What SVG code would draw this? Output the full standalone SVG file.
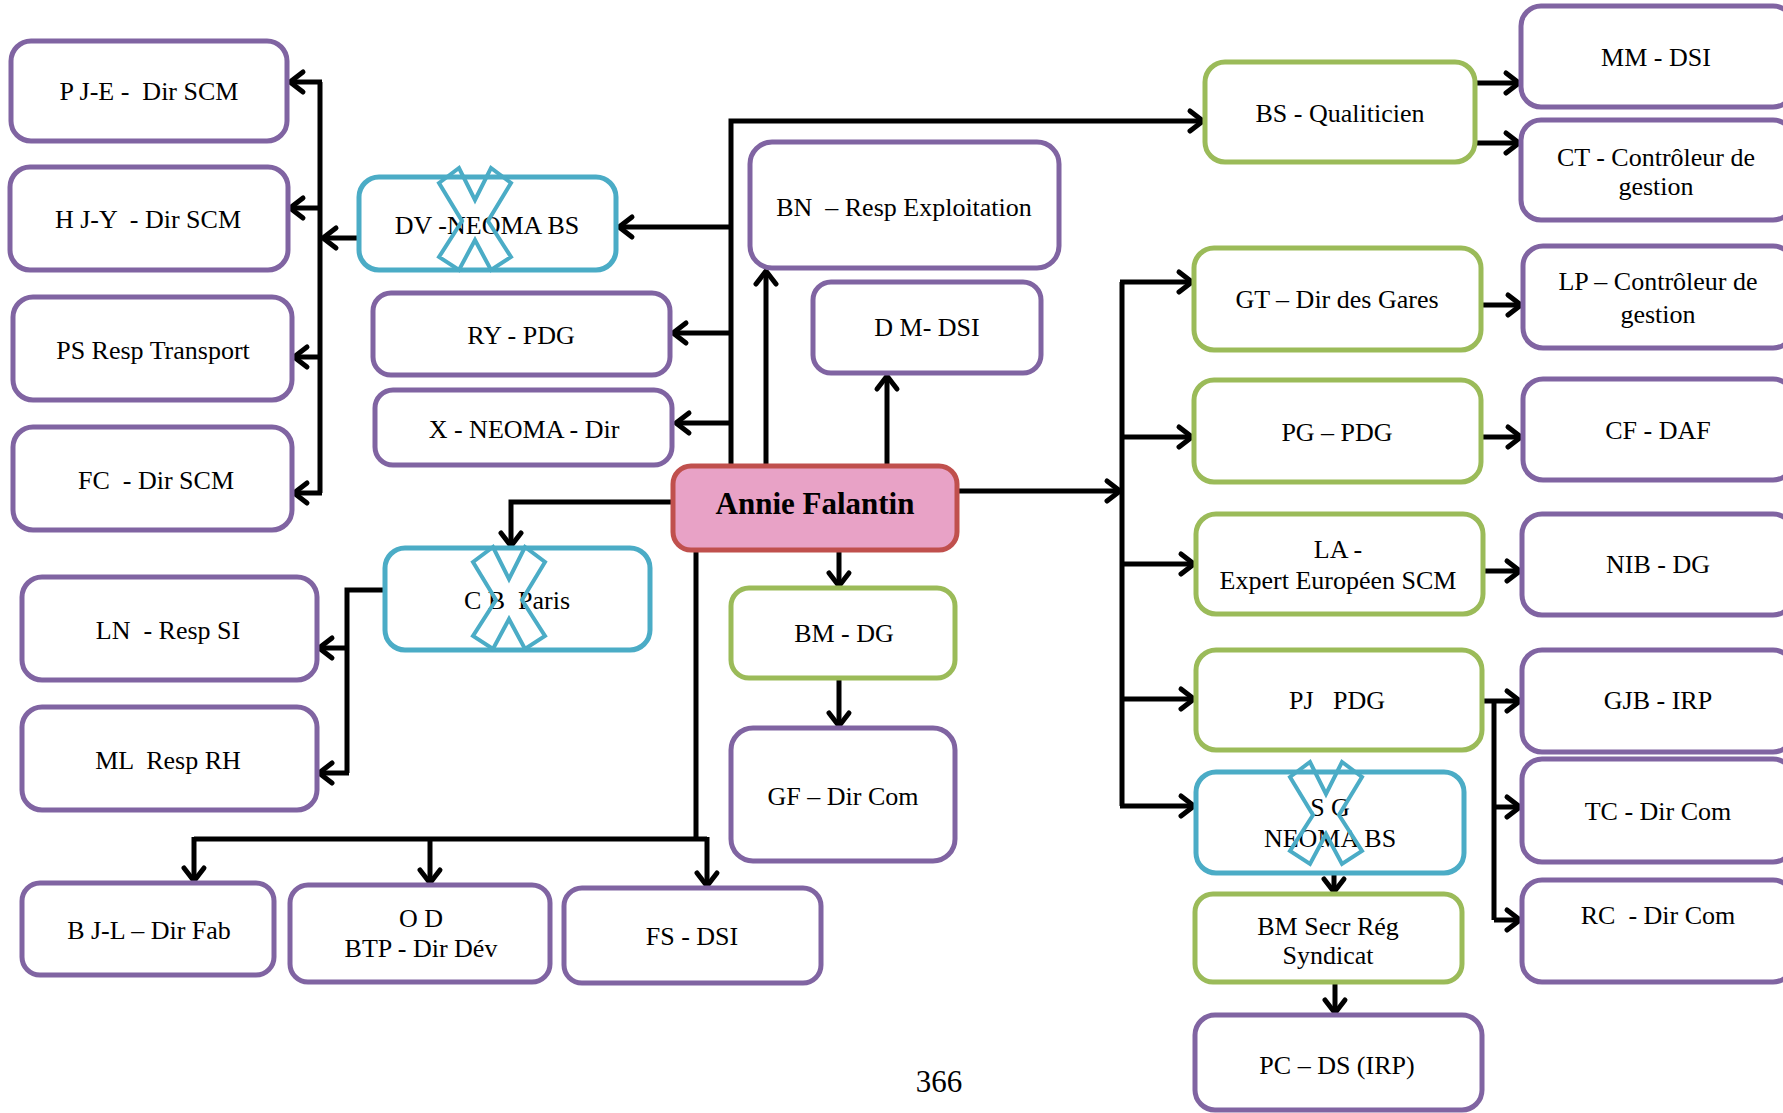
<svg xmlns="http://www.w3.org/2000/svg" xmlns:xlink="http://www.w3.org/1999/xlink" width="1783" height="1113" viewBox="0 0 1783 1113">
<style>
  .box { fill: #FFFFFF; stroke-width: 5; }
  .p { stroke: #8064A2; }
  .g { stroke: #9BBB59; }
  .b { stroke: #4BACC6; }
  .t { font-family: "Liberation Serif", "Times New Roman", serif; font-size: 26px; fill: #000; text-anchor: middle; dominant-baseline: central; }
  .c { fill: none; stroke: #000; stroke-width: 5; }
  .a { marker-end: url(#arr); }
  .xm { fill: none; stroke: #4BACC6; stroke-width: 4; stroke-linejoin: miter; }
</style>
<defs>
  <marker id="arr" markerUnits="userSpaceOnUse" viewBox="-20 -14 24 28" refX="0" refY="0" markerWidth="24" markerHeight="28" orient="auto">
    <path d="M-13,-10 L0,0 L-13,10" fill="none" stroke="#000" stroke-width="5" stroke-linecap="round" stroke-linejoin="round"/>
  </marker>
  <path id="xmark" d="M-36,-36 L-16,-51 L0,-19 L16,-51 L36,-36 L13,2 L36,38 L16,51 L0,21 L-16,51 L-36,38 L-13,2 Z"/>
</defs>
<rect width="1783" height="1113" fill="#FFFFFF"/>

<g id="connectors">
  <path class="c a" d="M731,466 V121 H1203"/>
  <path class="c a" d="M731,227 H619"/>
  <path class="c a" d="M731,333 H673"/>
  <path class="c a" d="M731,423 H676"/>
  <path class="c a" d="M359,238 H323"/>
  <path class="c" d="M320,82 V493"/>
  <path class="c a" d="M322,82 H290"/>
  <path class="c a" d="M322,208 H290"/>
  <path class="c a" d="M322,357 H294"/>
  <path class="c a" d="M322,493 H294"/>
  <path class="c a" d="M766,466 V271"/>
  <path class="c a" d="M887,466 V376"/>
  <path class="c a" d="M912,491 H1120"/>
  <path class="c" d="M1122,282 V806"/>
  <path class="c a" d="M1120,282 H1192"/>
  <path class="c a" d="M1120,437 H1192"/>
  <path class="c a" d="M1120,564 H1194"/>
  <path class="c a" d="M1120,699 H1194"/>
  <path class="c a" d="M1120,806 H1194"/>
  <path class="c a" d="M1477,83 H1519"/>
  <path class="c a" d="M1477,143 H1519"/>
  <path class="c a" d="M1481,305 H1521"/>
  <path class="c a" d="M1481,437 H1521"/>
  <path class="c a" d="M1483,571 H1520"/>
  <path class="c a" d="M1482,701 H1520"/>
  <path class="c" d="M1494,701 V920"/>
  <path class="c a" d="M1494,807 H1520"/>
  <path class="c a" d="M1494,920 H1520"/>
  <path class="c a" d="M1334,875 V892"/>
  <path class="c a" d="M1335,984 V1013"/>
  <path class="c a" d="M673,502 H511 V546"/>
  <path class="c" d="M385,590 H347 V773"/>
  <path class="c a" d="M349,648 H319"/>
  <path class="c a" d="M349,773 H319"/>
  <path class="c" d="M696,528 V839"/>
  <path class="c" d="M194,839 H707"/>
  <path class="c a" d="M194,837 V881"/>
  <path class="c a" d="M430,837 V883"/>
  <path class="c a" d="M707,837 V886"/>
  <path class="c a" d="M839,530 V586"/>
  <path class="c a" d="M839,680 V726"/>
</g>

<g id="n-pje"><rect class="box p" x="11" y="41" width="276" height="100" rx="20"/><text class="t" x="149" y="91" xml:space="preserve">P J-E -  Dir SCM</text></g>
<g id="n-hjy"><rect class="box p" x="10" y="167" width="278" height="103" rx="20"/><text class="t" x="148" y="219" xml:space="preserve">H J-Y  - Dir SCM</text></g>
<g id="n-ps"><rect class="box p" x="13" y="297" width="279" height="103" rx="20"/><text class="t" x="153" y="350">PS Resp Transport</text></g>
<g id="n-fc"><rect class="box p" x="13" y="427" width="279" height="103" rx="20"/><text class="t" x="156" y="480" xml:space="preserve">FC  - Dir SCM</text></g>
<g id="n-dv"><rect class="box b" x="359" y="177" width="257" height="93" rx="20"/><text class="t" x="487" y="225">DV -NEOMA BS</text><use xlink:href="#xmark" class="xm" x="475" y="219"/></g>
<g id="n-ry"><rect class="box p" x="373" y="293" width="297" height="82" rx="18"/><text class="t" x="521" y="335">RY - PDG</text></g>
<g id="n-xn"><rect class="box p" x="375" y="390" width="297" height="75" rx="18"/><text class="t" x="524" y="429">X - NEOMA - Dir</text></g>
<g id="n-bn"><rect class="box p" x="750" y="142" width="309" height="126" rx="22"/><text class="t" x="904" y="207" xml:space="preserve">BN  – Resp Exploitation</text></g>
<g id="n-dm"><rect class="box p" x="813" y="282" width="228" height="91" rx="18"/><text class="t" x="927" y="327">D M- DSI</text></g>
<g id="n-annie"><rect x="673" y="466" width="284" height="84" rx="18" fill="#E8A2C6" stroke="#C0504D" stroke-width="5"/><text class="t" x="815" y="503" style="font-weight:bold;font-size:31px">Annie Falantin</text></g>

<g id="n-bs"><rect class="box g" x="1205" y="62" width="270" height="100" rx="20"/><text class="t" x="1340" y="113">BS - Qualiticien</text></g>
<g id="n-mm"><rect class="box p" x="1521" y="6" width="272" height="101" rx="20"/><text class="t" x="1656" y="57">MM - DSI</text></g>
<g id="n-ct"><rect class="box p" x="1521" y="120" width="272" height="100" rx="20"/><text class="t" x="1656" y="157">CT - Contrôleur de</text><text class="t" x="1656" y="186">gestion</text></g>
<g id="n-gt"><rect class="box g" x="1194" y="248" width="287" height="102" rx="20"/><text class="t" x="1337" y="299">GT – Dir des Gares</text></g>
<g id="n-lp"><rect class="box p" x="1523" y="246" width="270" height="102" rx="20"/><text class="t" x="1658" y="281">LP – Contrôleur de</text><text class="t" x="1658" y="314">gestion</text></g>
<g id="n-pg"><rect class="box g" x="1194" y="380" width="287" height="102" rx="20"/><text class="t" x="1337" y="432">PG – PDG</text></g>
<g id="n-cf"><rect class="box p" x="1523" y="379" width="270" height="101" rx="20"/><text class="t" x="1658" y="430">CF - DAF</text></g>
<g id="n-la"><rect class="box g" x="1196" y="514" width="287" height="100" rx="20"/><text class="t" x="1338" y="549">LA -</text><text class="t" x="1338" y="580">Expert Européen SCM</text></g>
<g id="n-nib"><rect class="box p" x="1522" y="514" width="271" height="101" rx="20"/><text class="t" x="1658" y="564">NIB - DG</text></g>
<g id="n-pj"><rect class="box g" x="1196" y="650" width="286" height="100" rx="20"/><text class="t" x="1337" y="700" xml:space="preserve">PJ   PDG</text></g>
<g id="n-gjb"><rect class="box p" x="1522" y="650" width="271" height="102" rx="20"/><text class="t" x="1658" y="700">GJB - IRP</text></g>
<g id="n-sg"><rect class="box b" x="1196" y="772" width="268" height="101" rx="20"/><text class="t" x="1330" y="807">S G</text><text class="t" x="1330" y="838">NEOMA BS</text><use xlink:href="#xmark" class="xm" x="1326" y="813"/></g>
<g id="n-tc"><rect class="box p" x="1522" y="759" width="271" height="103" rx="20"/><text class="t" x="1658" y="811">TC - Dir Com</text></g>
<g id="n-bms"><rect class="box g" x="1195" y="894" width="267" height="88" rx="18"/><text class="t" x="1328" y="926">BM Secr Rég</text><text class="t" x="1328" y="955">Syndicat</text></g>
<g id="n-rc"><rect class="box p" x="1522" y="880" width="271" height="102" rx="20"/><text class="t" x="1658" y="915" xml:space="preserve">RC  - Dir Com</text></g>
<g id="n-pc"><rect class="box p" x="1195" y="1015" width="287" height="95" rx="20"/><text class="t" x="1337" y="1065">PC – DS (IRP)</text></g>

<g id="n-cb"><rect class="box b" x="385" y="548" width="265" height="102" rx="20"/><text class="t" x="517" y="600" xml:space="preserve">C B  Paris</text><use xlink:href="#xmark" class="xm" x="509" y="598"/></g>
<g id="n-ln"><rect class="box p" x="22" y="577" width="295" height="103" rx="20"/><text class="t" x="168" y="630" xml:space="preserve">LN  - Resp SI</text></g>
<g id="n-ml"><rect class="box p" x="22" y="707" width="295" height="103" rx="20"/><text class="t" x="168" y="760" xml:space="preserve">ML  Resp RH</text></g>
<g id="n-bmdg"><rect class="box g" x="731" y="588" width="224" height="90" rx="18"/><text class="t" x="844" y="633">BM - DG</text></g>
<g id="n-gf"><rect class="box p" x="731" y="728" width="224" height="133" rx="22"/><text class="t" x="843" y="796">GF – Dir Com</text></g>
<g id="n-bjl"><rect class="box p" x="22" y="883" width="252" height="92" rx="18"/><text class="t" x="149" y="930">B J-L – Dir Fab</text></g>
<g id="n-od"><rect class="box p" x="290" y="885" width="260" height="97" rx="18"/><text class="t" x="421" y="918">O D</text><text class="t" x="421" y="948">BTP - Dir Dév</text></g>
<g id="n-fs"><rect class="box p" x="564" y="888" width="257" height="95" rx="18"/><text class="t" x="692" y="936">FS - DSI</text></g>

<text x="939" y="1092" style="font-family:'Liberation Serif','Times New Roman',serif;font-size:31px;text-anchor:middle;fill:#000">366</text>
</svg>
